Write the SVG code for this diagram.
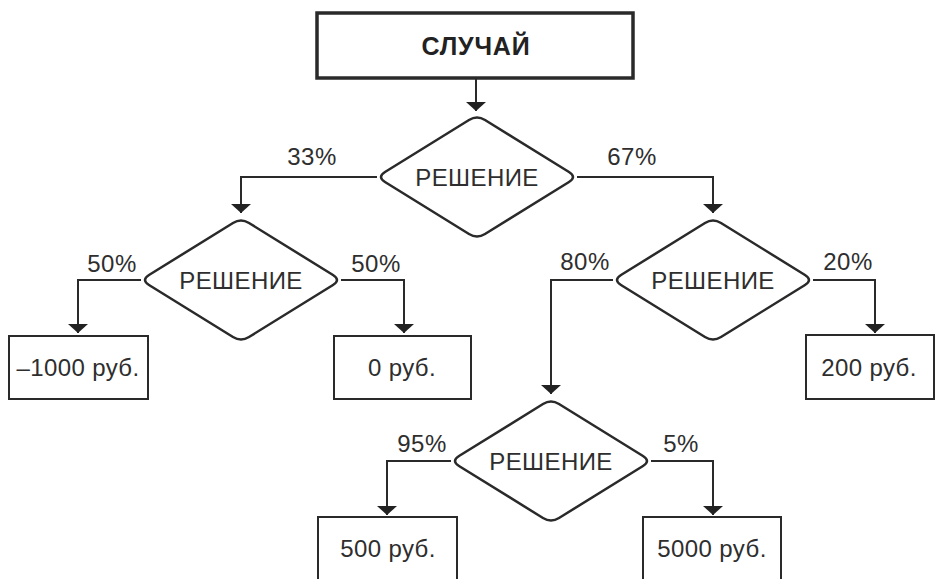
<svg xmlns="http://www.w3.org/2000/svg" xmlns:xlink="http://www.w3.org/1999/xlink" width="936" height="579" viewBox="0 0 936 579">
<style>
.box{fill:#fff;stroke:#2a2a2a;stroke-width:2}
.top{fill:#fff;stroke:#2a2a2a;stroke-width:3.5}
.dia{fill:#fff;stroke:#2a2a2a;stroke-width:2.5}
.con{fill:none;stroke:#2a2a2a;stroke-width:2;marker-end:url(#ah)}
text{font-family:"Liberation Sans",Arial,sans-serif;font-size:24px;fill:#2e2e2e;text-anchor:middle;letter-spacing:0.4px}
.lbl{font-size:24px;letter-spacing:0.5px}
.ttl{font-weight:bold;font-size:25px;fill:#222;letter-spacing:0.8px}
</style>
<defs>
<marker id="ah" viewBox="0 -10 9 20" refX="9" refY="0" markerWidth="9" markerHeight="20" markerUnits="userSpaceOnUse" orient="auto">
<path d="M0,-10 L9,0 L0,10 Z" fill="#222"/>
</marker>
<path id="dshape" d="M-92,-5 L-8,-57 Q0,-62 8,-57 L92,-5 Q100,0 92,5 L8,57 Q0,62 -8,57 L-92,5 Q-100,0 -92,-5 Z"/>
</defs>
<g id="connectors">
<path class="con" d="M476,78 V111"/>
<path class="con" d="M377,177 H241 V213"/>
<path class="con" d="M577,177 H713 V213"/>
<path class="con" d="M141,280 H78 V333"/>
<path class="con" d="M341,280 H404 V333"/>
<path class="con" d="M613,280 H551 V394"/>
<path class="con" d="M813,280 H875 V333"/>
<path class="con" d="M451,461 H387 V515"/>
<path class="con" d="M651,461 H713 V515"/>
</g>
<g id="labels">
<text class="lbl" x="312" y="165">33%</text>
<text class="lbl" x="632" y="165">67%</text>
<text class="lbl" x="112" y="272">50%</text>
<text class="lbl" x="376" y="272">50%</text>
<text class="lbl" x="585" y="270">80%</text>
<text class="lbl" x="848" y="270">20%</text>
<text class="lbl" x="422" y="452">95%</text>
<text class="lbl" x="681" y="452">5%</text>
</g>
<g id="n-sluchai">
<rect class="top" x="317" y="13" width="316" height="65"/>
<text class="ttl" x="476" y="55">СЛУЧАЙ</text>
</g>
<g id="n-d1">
<use xlink:href="#dshape" class="dia" transform="translate(477,177)"/>
<text x="477" y="186">РЕШЕНИЕ</text>
</g>
<g id="n-d2">
<use xlink:href="#dshape" class="dia" transform="translate(241,280)"/>
<text x="241" y="289">РЕШЕНИЕ</text>
</g>
<g id="n-d3">
<use xlink:href="#dshape" class="dia" transform="translate(713,280)"/>
<text x="713" y="289">РЕШЕНИЕ</text>
</g>
<g id="n-d4">
<use xlink:href="#dshape" class="dia" transform="translate(551,461)"/>
<text x="551" y="470">РЕШЕНИЕ</text>
</g>
<g id="n-minus1000">
<rect class="box" x="9" y="336" width="139" height="63"/>
<text x="78" y="376">–1000 руб.</text>
</g>
<g id="n-0">
<rect class="box" x="334" y="336" width="137" height="63"/>
<text x="402" y="376">0 руб.</text>
</g>
<g id="n-200">
<rect class="box" x="806" y="335" width="128" height="64"/>
<text x="869" y="376">200 руб.</text>
</g>
<g id="n-500">
<rect class="box" x="318" y="517" width="139" height="70"/>
<text x="388" y="557">500 руб.</text>
</g>
<g id="n-5000">
<rect class="box" x="643" y="517" width="138" height="70"/>
<text x="712" y="557">5000 руб.</text>
</g>
</svg>
